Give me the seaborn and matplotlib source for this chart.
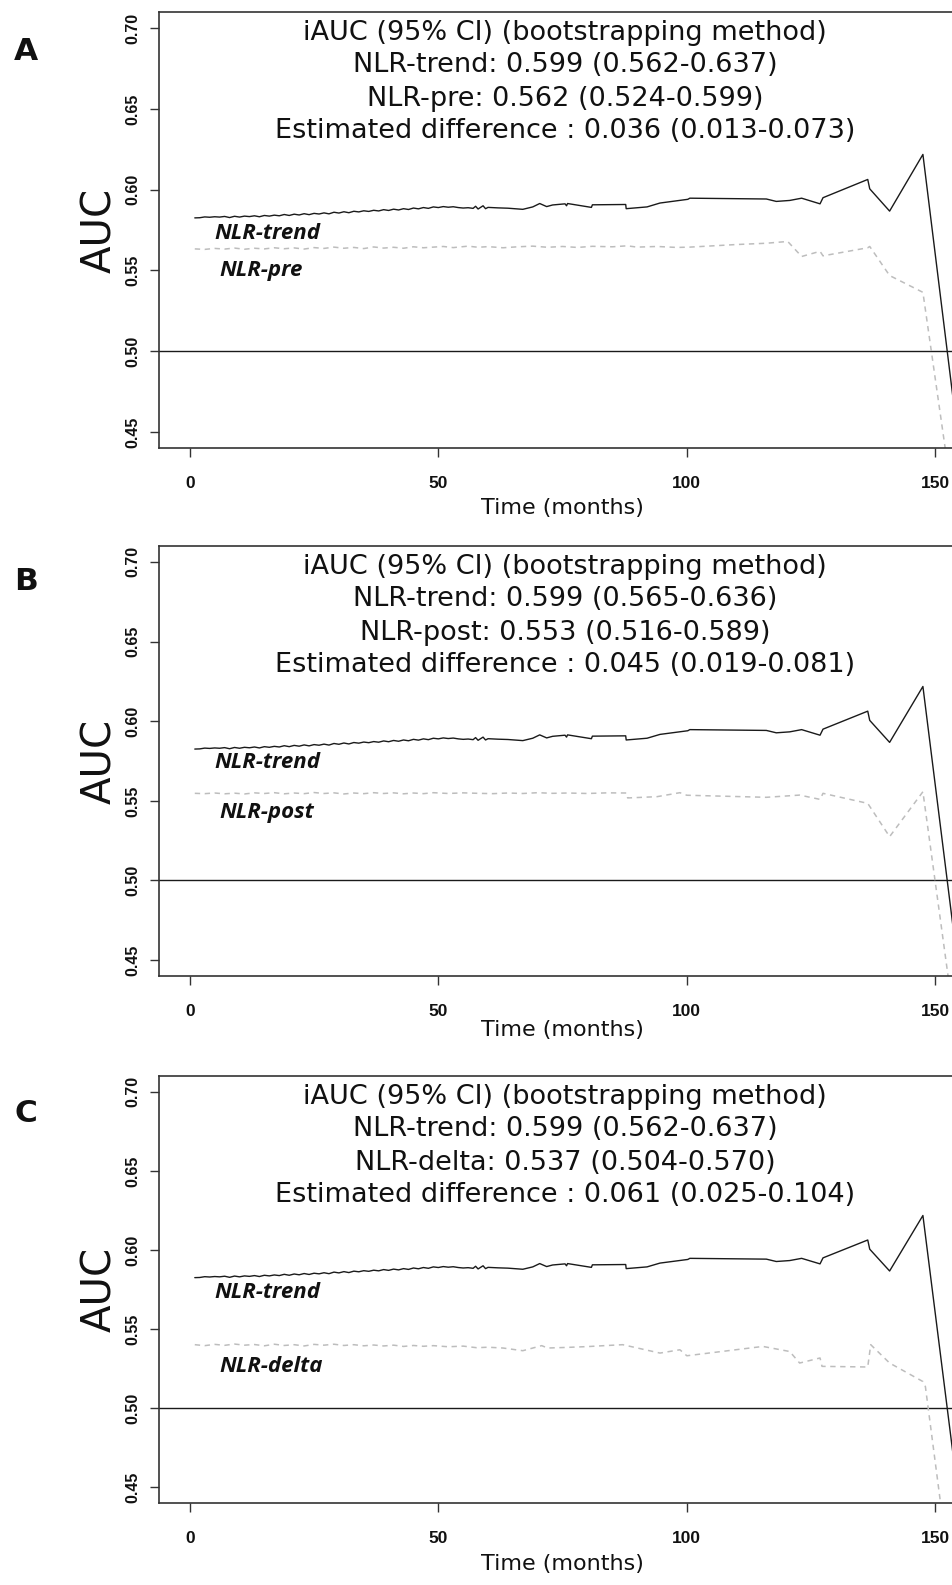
import matplotlib
matplotlib.use("Agg")
import matplotlib.pyplot as plt
import seaborn as sns

# time-dependent AUC curves (months, AUC)
months_trend = [1, 2, 3, 4, 5, 6, 7, 8, 9, 10, 11, 12, 13, 14, 15, 16, 17, 18, 19, 20,
                21, 22, 23, 24, 25, 26, 27, 28, 29, 30, 31, 32, 33, 34, 35, 36, 37, 38, 39, 40,
                41, 42, 43, 44, 45, 46, 47, 48, 49, 50, 51, 52, 53, 54, 55, 56, 57, 57.5, 58, 59,
                59.5, 60, 62, 64, 67, 69, 70.4, 71.8, 73, 75.5, 75.8, 76, 80.8, 81, 87.7, 87.8,
                92, 94.6, 100.2, 100.6, 116, 118, 120.7, 123.1, 126.8, 127.4, 136.4, 136.8,
                140.8, 147.5, 155]
auc_trend = [0.5825, 0.5826, 0.5831, 0.5829, 0.5832, 0.5830, 0.5834, 0.5827, 0.5835, 0.5830,
             0.5836, 0.5833, 0.5838, 0.5832, 0.5840, 0.5836, 0.5842, 0.5838, 0.5846, 0.5840,
             0.5848, 0.5843, 0.5851, 0.5845, 0.5853, 0.5849, 0.5856, 0.5850, 0.5860, 0.5855,
             0.5863, 0.5857, 0.5866, 0.5862, 0.5869, 0.5865, 0.5872, 0.5868, 0.5876, 0.5871,
             0.5879, 0.5874, 0.5882, 0.5877, 0.5886, 0.5881, 0.5889, 0.5884, 0.5893, 0.5889,
             0.5895, 0.5891, 0.5894, 0.5889, 0.5886, 0.5888, 0.5884, 0.5897, 0.5880, 0.5900,
             0.5882, 0.5890, 0.5887, 0.5885, 0.5878, 0.5893, 0.5914, 0.5895, 0.5905, 0.5912,
             0.5900, 0.5914, 0.5890, 0.5906, 0.5908, 0.5882, 0.5893, 0.5917, 0.5940, 0.5947,
             0.5942, 0.5927, 0.5933, 0.5947, 0.5912, 0.5950, 0.6063, 0.6005, 0.5867, 0.6218,
             0.4350]

months_pre = [1, 3, 5, 7, 9, 11, 13, 15, 17, 19, 21, 23, 25, 27, 29, 31, 33, 35, 37, 39,
              41, 43, 45, 47, 49, 51, 53, 56, 58, 60, 63, 66, 69, 72, 75, 78, 81, 85, 88, 90,
              94, 98, 100.6, 110, 116, 120.3, 123.1, 126.8, 127.4, 136.4, 136.8, 140.8, 147.5, 153]
auc_pre = [0.5633, 0.5630, 0.5636, 0.5632, 0.5638, 0.5631, 0.5637, 0.5633, 0.5640, 0.5634,
           0.5639, 0.5632, 0.5641, 0.5636, 0.5644, 0.5637, 0.5642, 0.5635, 0.5645, 0.5638,
           0.5643, 0.5637, 0.5646, 0.5640, 0.5644, 0.5648, 0.5641, 0.5650, 0.5643, 0.5647,
           0.5640, 0.5646, 0.5650, 0.5643, 0.5648, 0.5642, 0.5649, 0.5646, 0.5652, 0.5644,
           0.5648, 0.5642, 0.5644, 0.5660, 0.5668, 0.5679, 0.5586, 0.5618, 0.5590, 0.5640,
           0.5648, 0.5468, 0.5364, 0.4180]

months_post = [1, 3, 5, 7, 9, 11, 13, 15, 17, 19, 21, 23, 25, 27, 29, 31, 33, 35, 37, 39,
               41, 43, 45, 47, 49, 52, 55, 58, 61, 64, 67, 70, 73, 76, 80, 84, 87.9, 88.1,
               94, 98.6, 100, 116, 122.7, 126.8, 127.4, 136.4, 140.8, 147.5, 153]
auc_post = [0.5547, 0.5545, 0.5549, 0.5544, 0.5548, 0.5543, 0.5550, 0.5546, 0.5551, 0.5544,
            0.5549, 0.5545, 0.5552, 0.5546, 0.5550, 0.5543, 0.5549, 0.5545, 0.5551, 0.5546,
            0.5550, 0.5544, 0.5549, 0.5545, 0.5551, 0.5546, 0.5550, 0.5547, 0.5545, 0.5549,
            0.5546, 0.5551, 0.5547, 0.5549, 0.5546, 0.5550, 0.5549, 0.5518, 0.5526, 0.5551,
            0.5535, 0.5522, 0.5536, 0.5509, 0.5547, 0.5484, 0.5275, 0.5557, 0.4300]

months_delta = [1, 3, 5, 7, 9, 11, 13, 15, 17, 19, 21, 23, 25, 27, 29, 31, 33, 35, 37, 39,
                41, 43, 45, 47, 49, 52, 55, 57.7, 60, 63, 67, 70.8, 72, 76, 80, 84, 87.1,
                94.6, 98.6, 100, 115.3, 120.7, 122.7, 126.8, 127.2, 136.4, 137, 140.8,
                147.5, 148, 152.5]
auc_delta = [0.5401, 0.5395, 0.5403, 0.5397, 0.5405, 0.5398, 0.5402, 0.5394, 0.5404, 0.5396,
             0.5401, 0.5393, 0.5403, 0.5398, 0.5404, 0.5396, 0.5401, 0.5394, 0.5399, 0.5393,
             0.5398, 0.5390, 0.5396, 0.5391, 0.5395, 0.5388, 0.5392, 0.5382, 0.5385, 0.5380,
             0.5363, 0.5395, 0.5380, 0.5384, 0.5389, 0.5396, 0.5401, 0.5348, 0.5369, 0.5331,
             0.5390, 0.5358, 0.5285, 0.5317, 0.5264, 0.5260, 0.5401, 0.5285, 0.5168, 0.5136,
             0.4050]

panel_letters = ["A", "B", "C"]
compare_names = ["NLR-pre", "NLR-post", "NLR-delta"]
compare_months = [months_pre, months_post, months_delta]
compare_auc = [auc_pre, auc_post, auc_delta]
summary_lines = [
    ["iAUC (95% CI) (bootstrapping method)",
     "NLR-trend: 0.599 (0.562-0.637)",
     "NLR-pre: 0.562 (0.524-0.599)",
     "Estimated difference : 0.036 (0.013-0.073)"],
    ["iAUC (95% CI) (bootstrapping method)",
     "NLR-trend: 0.599 (0.565-0.636)",
     "NLR-post: 0.553 (0.516-0.589)",
     "Estimated difference : 0.045 (0.019-0.081)"],
    ["iAUC (95% CI) (bootstrapping method)",
     "NLR-trend: 0.599 (0.562-0.637)",
     "NLR-delta: 0.537 (0.504-0.570)",
     "Estimated difference : 0.061 (0.025-0.104)"],
]
yticks = [0.45, 0.50, 0.55, 0.60, 0.65, 0.70]
xticks = [0, 50, 100, 150]

sns.set_style("white")
plt.rcParams["font.family"] = ["DejaVu Sans"]
plt.rcParams["text.color"] = "#111111"

W, H = 953, 1585
fig = plt.figure(figsize=(W / 100, H / 100), dpi=100)

# axes boxes in pixels: (top, bottom); plot runs past the right edge like the original crop
boxes = [(12, 448), (546, 976), (1076, 1503)]
left_px, width_px = 159, 832
trend_label_y = [0.5697, 0.5706, 0.5699]
comp_label_y = [0.5468, 0.5392, 0.5230]
xlabel_drop = [66, 60, 67]

for i, (top, bot) in enumerate(boxes):
    ax = fig.add_axes([left_px / W, 1 - bot / H, width_px / W, (bot - top) / H])
    ax.set_xlim(-6.2, 161.2)
    ax.set_ylim(0.44, 0.71)

    ax.axhline(0.5, color="#1a1a1a", lw=1.0)
    sns.lineplot(x=months_trend, y=auc_trend, ax=ax, color="#1a1a1a", lw=1.0,
                 estimator=None, sort=False)
    sns.lineplot(x=compare_months[i], y=compare_auc[i], ax=ax, color="#bdbdbd", lw=1.1,
                 linestyle=(0, (3.5, 3)), estimator=None, sort=False)

    for k, line in enumerate(summary_lines[i]):
        ax.annotate(line, xy=(75.5, 1), xycoords=("data", "axes fraction"),
                    xytext=(0, -(27.5 + 33 * k)), textcoords="offset pixels",
                    ha="center", va="baseline", fontsize=19.5, color="#111111")

    ax.text(5.0, trend_label_y[i], "NLR-trend", family="Open Sans", weight="bold",
            style="italic", fontsize=16, ha="left", va="baseline", color="#111111")
    ax.text(6.0, comp_label_y[i], compare_names[i], family="Open Sans", weight="bold",
            style="italic", fontsize=16, ha="left", va="baseline", color="#111111")

    ax.set_xticks(xticks)
    ax.set_yticks(yticks)
    ax.set_xticklabels([str(t) for t in xticks], family="Liberation Sans",
                       weight="bold", fontsize=12.5, color="#111111")
    ax.set_yticklabels([f"{t:.2f}" for t in yticks], family="Liberation Sans",
                       weight="bold", fontsize=11.5, rotation=90, va="center",
                       color="#111111")
    ax.tick_params(axis="both", direction="out", length=6.5, width=1.0, color="#333333",
                   bottom=True, left=True)
    ax.tick_params(axis="x", pad=14)
    ax.tick_params(axis="y", pad=7)

    for side in ["left", "bottom", "top"]:
        ax.spines[side].set_visible(True)
        ax.spines[side].set_color("#333333")
        ax.spines[side].set_linewidth(1.2)
    ax.spines["right"].set_visible(False)

    ax.set_ylabel("AUC", fontsize=29, labelpad=4, color="#111111")
    ax.set_xlabel("")
    ax.annotate("Time (months)", xy=(75, 0), xycoords=("data", "axes fraction"),
                xytext=(0, -xlabel_drop[i]), textcoords="offset pixels",
                ha="center", va="baseline", fontsize=16, color="#111111")

    fig.text(26 / W, 1 - (52 + [0, 529, 1062][i]) / H, panel_letters[i],
             fontsize=22.5, weight="bold", ha="center", va="center", color="#111111")

fig.savefig("out.png", dpi=100)
